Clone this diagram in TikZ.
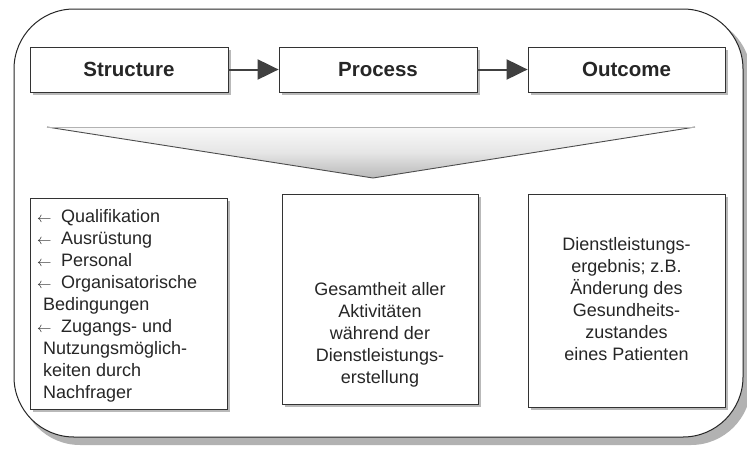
\documentclass[tikz,border=0pt]{standalone}
\usepackage{fontspec}
\setmainfont{Liberation Sans}
\usetikzlibrary{shadows,arrows.meta}
\newcommand{\itemarrow}{\makebox[24pt][l]{\fontsize{14}{14}\selectfont$\leftarrow$}}
\begin{document}
\begin{tikzpicture}[x=1pt,y=-1pt,
  shadowed/.style={drop shadow={shadow xshift=3pt,shadow yshift=-3pt,fill=gray!55,opacity=1}},
  headbox/.style={draw=black!80,line width=0.8pt,fill=white,shadowed,minimum height=45pt,font=\fontsize{20.5}{24}\selectfont\bfseries,text=black!85,inner sep=0pt},
  bodybox/.style={draw=black!80,line width=0.8pt,fill=white,shadowed,inner sep=0pt},
  bodytext/.style={font=\fontsize{18}{22}\selectfont,text=black!85,inner sep=0pt},
  flow/.style={line width=2pt,draw=black!75,-{Triangle[length=21pt,width=20pt,fill=black!75]}}]
\useasboundingbox (0,0) rectangle (747,450);
% outer frame
\fill[gray!60] (20,16) [rounded corners=60pt] rectangle (751,445);
\draw[line width=1pt,draw=black!85,fill=white,rounded corners=60pt] (14,9) rectangle (743,437);
% head boxes
\node[headbox,minimum width=198pt] (structure) at (129,69.5) {Structure};
\node[headbox,minimum width=198pt] (process) at (378,69.5) {Process};
\node[headbox,minimum width=197pt] (outcome) at (626.5,69.5) {Outcome};
\draw[flow] (structure) -- (process);
\draw[flow] (process) -- (outcome);
% funnel
\coordinate (fl) at (47,127);
\coordinate (fr) at (695,127);
\coordinate (ft) at (373,178);
\shade[top color=gray!5,bottom color=gray!55,middle color=gray!20] (fl) -- (fr) -- (ft) -- cycle;
\draw[line width=0.9pt,draw=black!70] (fr) -- (ft) -- (fl);
\draw[line width=0.6pt,draw=gray!60] (fl) -- (fr);
% bottom boxes
\node[bodybox,minimum width=197pt,minimum height=211pt] (sbox) at (128.5,303.5) {};
\node[bodybox,minimum width=196pt,minimum height=210pt] (pbox) at (380,299) {};
\node[bodybox,minimum width=197pt,minimum height=213pt] (obox) at (626.5,300.5) {};
\node[bodytext,align=left,anchor=north west] (stext) at (37,209) {%
\itemarrow Qualifikation\\
\itemarrow Ausrüstung\\
\itemarrow Personal\\
\itemarrow Organisatorische\\
\hspace*{6pt}Bedingungen\\
\itemarrow Zugangs- und\\
\hspace*{6pt}Nutzungsmöglich-\\
\hspace*{6pt}keiten durch\\
\hspace*{6pt}Nachfrager};
\node[bodytext,align=center] (ptext) at (380,335) {Gesamtheit aller\\Aktivitäten\\während der\\Dienstleistungs-\\erstellung};
\node[bodytext,align=center] (otext) at (626.5,299) {Dienstleistungs-\\ergebnis; z.B.\\Änderung des\\Gesundheits-\\zustandes\\eines Patienten};
\end{tikzpicture}
\end{document}
